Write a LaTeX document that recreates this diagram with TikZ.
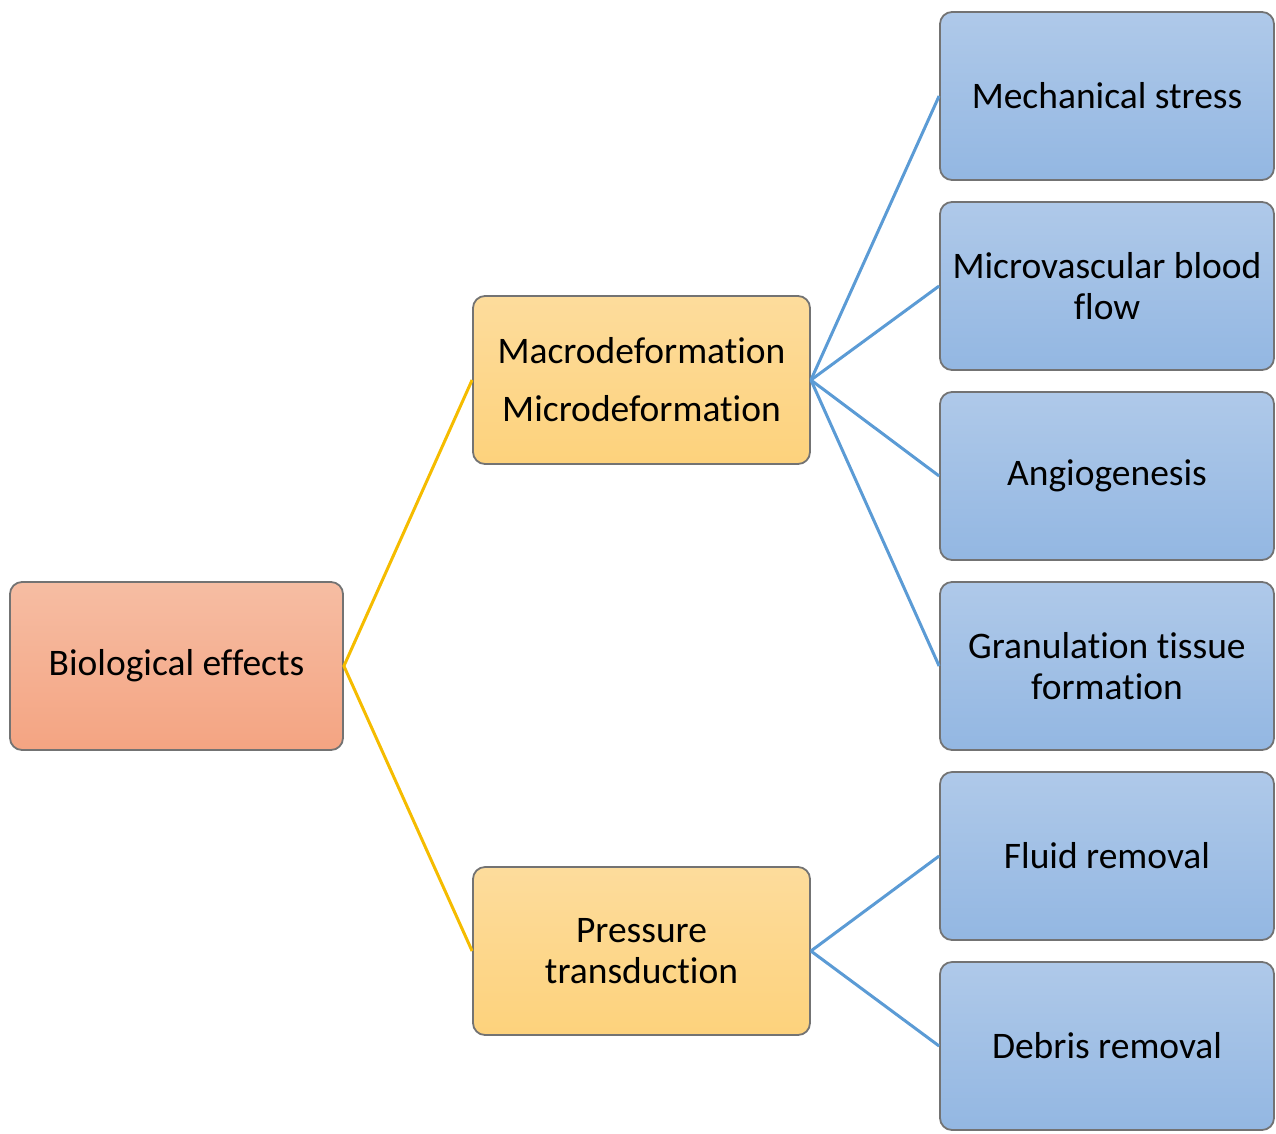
\documentclass[tikz,border=0pt]{standalone}
\usepackage{fontspec}
\setmainfont{Carlito}[RawFeature=-liga]
\begin{document}
\begin{tikzpicture}[x=1pt,y=-1pt,
  box/.style={rectangle, rounded corners=12pt, draw=black!55, line width=1.8pt,
    minimum width=334pt, minimum height=168pt, align=center, inner sep=4pt,
    font=\fontsize{37.5}{41}\selectfont, text=black},
  bluebox/.style={box, top color=bxtop, bottom color=bxbot},
  yelbox/.style={box, minimum width=337pt, top color=yltop, bottom color=ylbot},
  redbox/.style={box, minimum width=333pt, top color=rdtop, bottom color=rdbot},
  yline/.style={draw=yline, line width=3pt},
  bline/.style={draw=bline, line width=3pt}]
\definecolor{bxtop}{HTML}{AFC9E9}
\definecolor{bxbot}{HTML}{93B7E2}
\definecolor{yltop}{HTML}{FDDC9C}
\definecolor{ylbot}{HTML}{FDD27C}
\definecolor{rdtop}{HTML}{F6BDA3}
\definecolor{rdbot}{HTML}{F4A482}
\definecolor{yline}{HTML}{F5BC00}
\definecolor{bline}{HTML}{5B9BD5}
\useasboundingbox (0,0) rectangle (1276,1133);

\node[redbox] (bio) at (176.5,666) {Biological effects};
\node[yelbox] (macro) at (641.5,380) {Macrodeformation\\[17pt]Microdeformation};
\node[yelbox] (press) at (641.5,951) {Pressure\\transduction};

\node[bluebox] (mech) at (1107,96) {Mechanical stress};
\node[bluebox] (micro) at (1107,286) {Microvascular blood\\flow};
\node[bluebox] (angio) at (1107,476) {Angiogenesis};
\node[bluebox] (gran) at (1107,666) {Granulation tissue\\formation};
\node[bluebox] (fluid) at (1107,856) {Fluid removal};
\node[bluebox] (debris) at (1107,1046) {Debris removal};

\draw[yline] (macro.west) -- (bio.east) -- (press.west);
\foreach \t in {mech,micro,angio,gran} \draw[bline] (macro.east) -- (\t.west);
\foreach \t in {fluid,debris} \draw[bline] (press.east) -- (\t.west);
\end{tikzpicture}
\end{document}
